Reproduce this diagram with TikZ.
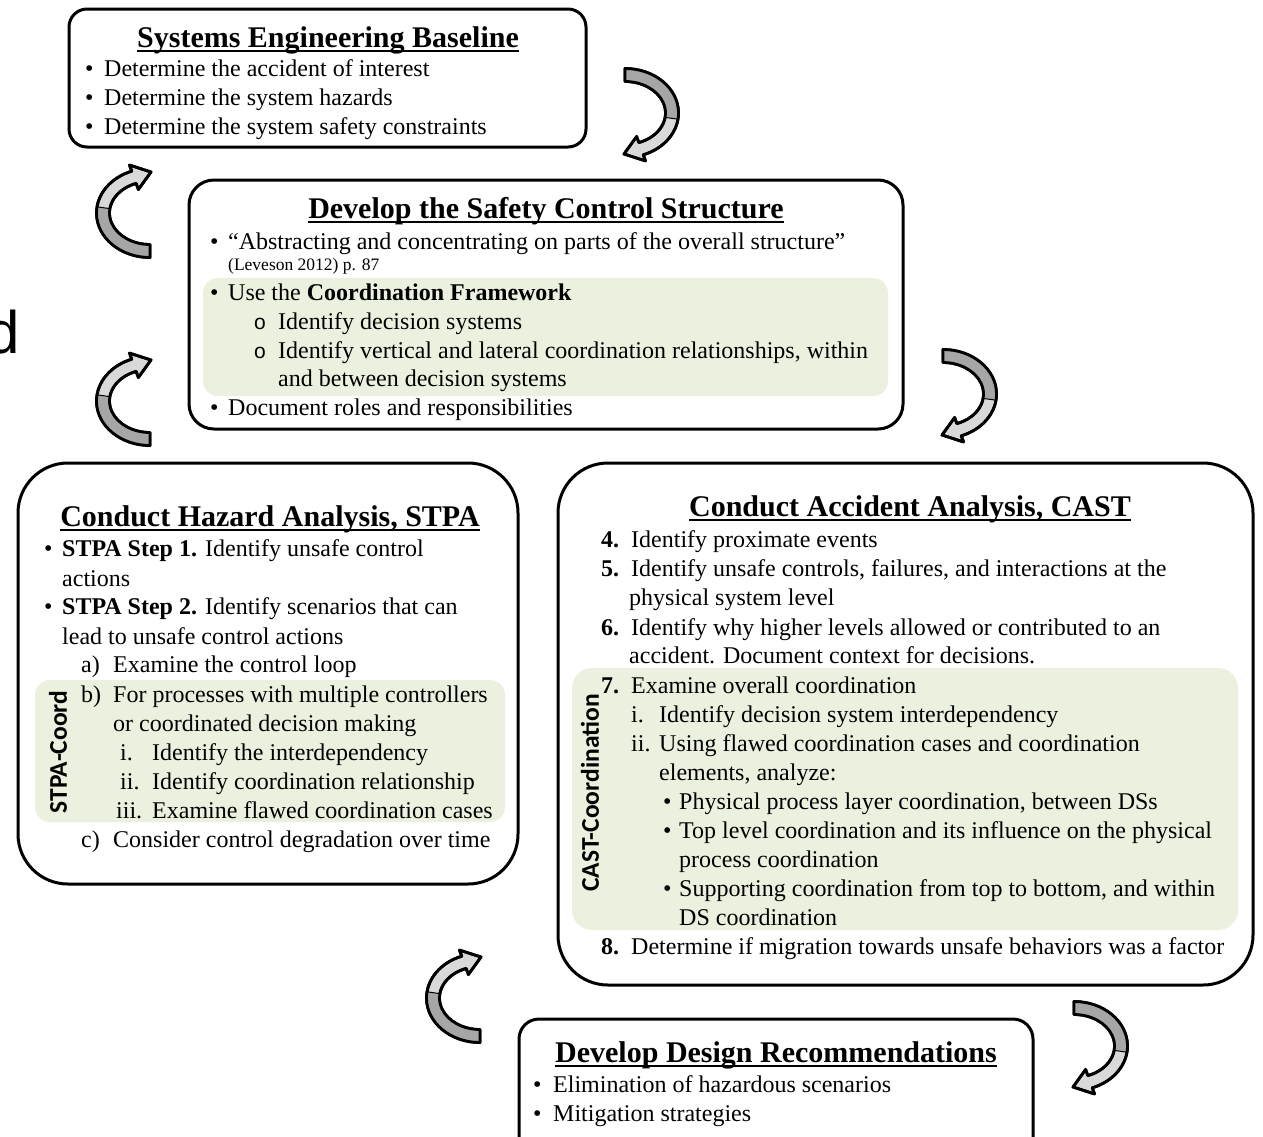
\documentclass[tikz,border=0pt]{standalone}
\usepackage{fontspec}
\setmainfont{Liberation Serif}
\newfontfamily\calib{Carlito}
\newfontfamily\arial{Liberation Sans}
\usetikzlibrary{calc}
\definecolor{hl}{HTML}{EBF1DE}
\definecolor{adark}{HTML}{A6A6A6}
\definecolor{alight}{HTML}{D9D9D9}
\tikzset{
  box/.style={draw=black, line width=3pt, fill=white},
  hlbox/.style={fill=hl},
  txt/.style={anchor=base west, inner sep=0pt, font=\fontsize{24}{29}\selectfont},
  ttl/.style={anchor=base, inner sep=0pt, font=\fontsize{30}{36}\selectfont\bfseries},
  sml/.style={anchor=base west, inner sep=0pt, font=\fontsize{17.5}{20}\selectfont},
  rot/.style={rotate=90, inner sep=0pt, font=\fontsize{25.5}{30}\selectfont\calib\bfseries},
  uline/.style={line width=2pt},
  arrline/.style={line width=2.8pt, line join=round},
}
\newcommand\TL[4]{\node[txt] (#1) at (#2,#3) {#4};}
\newcommand\BU[1]{\makebox[#1pt][l]{\textbullet}}
\newcommand\LB[2]{\makebox[#1pt][l]{#2}}
\newcommand\SO{\makebox[24pt][l]{\arial\fontsize{21}{24}\selectfont o}}
\newcommand\CArrow[3]{%
\begin{scope}[shift={(#1,#2)},rotate=#3]
\filldraw[fill=alight, arrline] (-90:53.5 and 44.5) arc[start angle=-90,end angle=70,x radius=53.5,y radius=44.5] -- (70:60 and 51) -- (-1,41) -- (70:34 and 25) -- (70:40.5 and 31.5) arc[start angle=70,end angle=-90,x radius=40.5,y radius=31.5] -- cycle;
\fill[adark] (-90:53.5 and 44.5) arc[start angle=-90,end angle=8,x radius=53.5,y radius=44.5] -- (8:40.5 and 31.5) arc[start angle=8,end angle=-90,x radius=40.5,y radius=31.5] -- cycle;
\draw[line width=1pt] (8:53.5 and 44.5) -- (8:40.5 and 31.5);
\draw[arrline] (-90:53.5 and 44.5) arc[start angle=-90,end angle=70,x radius=53.5,y radius=44.5] -- (70:60 and 51) -- (-1,41) -- (70:34 and 25) -- (70:40.5 and 31.5) arc[start angle=70,end angle=-90,x radius=40.5,y radius=31.5] -- cycle;
\end{scope}}
\begin{document}
\begin{tikzpicture}[x=1pt,y=-1pt]
\useasboundingbox (0,0) rectangle (1263,1136);
\fill[white] (0,0) rectangle (1263,1136);

% large letter at left edge, cut off as in the reference
\node[anchor=base west, inner sep=0pt, font=\arial\fontsize{60}{70}\selectfont] (dd) at (-14,353) {d};

% boxes
\draw[box, rounded corners=18pt] (69,9) rectangle (586,147);
\draw[box, rounded corners=25pt] (189,180) rectangle (903,429);
\fill[hlbox, rounded corners=15pt] (203,278) rectangle (888,396);
\draw[box, rounded corners=50pt] (18,463) rectangle (518,884);
\fill[hlbox, rounded corners=15pt] (35,680) rectangle (505,822);
\draw[box, rounded corners=50pt] (558,463) rectangle (1253,985);
\fill[hlbox, rounded corners=20pt] (572,668) rectangle (1238,930);
\draw[box, rounded corners=20pt] (519,1019) rectangle (1033,1160);

% curved arrows
\CArrow{625}{113}{0}
\CArrow{150}{213}{180}
\CArrow{150}{401}{180}
\CArrow{943}{394}{0}
\CArrow{480}{998}{180}
\CArrow{1074}{1046}{0}

% Systems Engineering Baseline
\node[ttl] (t1) at (328,47) {Systems Engineering Baseline};
\TL{s1}{85}{76}{\BU{19}Determine the accident of interest}
\TL{s2}{85}{105}{\BU{19}Determine the system hazards}
\TL{s3}{85}{134}{\BU{19}Determine the system safety constraints}

% Safety control structure
\node[ttl] (t2) at (546,218) {Develop the Safety Control Structure};
\TL{c1}{210}{249}{\BU{18}“Abstracting and concentrating on parts of the overall structure”}
\node[sml] (c2) at (228,270) {(Leveson 2012) p. 87};
\TL{c3}{210}{300}{\BU{18}Use the \textbf{Coordination Framework}}
\TL{c4}{254}{329}{\SO Identify decision systems}
\TL{c5}{254}{358}{\SO Identify vertical and lateral coordination relationships, within}
\TL{c6}{278}{386}{and between decision systems}
\TL{c7}{210}{415}{\BU{18}Document roles and responsibilities}

% STPA
\node[ttl] (t3) at (270,526) {Conduct Hazard Analysis, STPA};
\TL{p1}{44}{556}{\BU{18}\textbf{STPA Step 1.} Identify unsafe control}
\TL{p2}{62}{586}{actions}
\TL{p3}{44}{614}{\BU{18}\textbf{STPA Step 2.} Identify scenarios that can}
\TL{p4}{62}{644}{lead to unsafe control actions}
\TL{p5}{81}{672}{\LB{32}{a)}Examine the control loop}
\TL{p6}{81}{702}{\LB{32}{b)}For processes with multiple controllers}
\TL{p7}{113}{731}{or coordinated decision making}
\TL{p8}{120}{760}{\LB{32}{i.}Identify the interdependency}
\TL{p9}{120}{789}{\LB{32}{ii.}Identify coordination relationship}
\TL{p10}{116}{818}{\LB{36}{iii.}Examine flawed coordination cases}
\TL{p11}{81}{847}{\LB{32}{c)}Consider control degradation over time}
\node[rot] (pc) at (58,752) {STPA-Coord};

% CAST
\node[ttl] (t4) at (910,516) {Conduct Accident Analysis, CAST};
\TL{k1}{601}{547}{\LB{30}{\textbf{4.}}Identify proximate events}
\TL{k2}{601}{576}{\LB{30}{\textbf{5.}}Identify unsafe controls, failures, and interactions at the}
\TL{k3}{629}{605}{physical system level}
\TL{k4}{601}{635}{\LB{30}{\textbf{6.}}Identify why higher levels allowed or contributed to an}
\TL{k5}{629}{663}{accident. Document context for decisions.}
\TL{k6}{601}{693}{\LB{30}{\textbf{7.}}Examine overall coordination}
\TL{k7}{631}{722}{\LB{28}{i.}Identify decision system interdependency}
\TL{k8}{631}{751}{\LB{28}{ii.}Using flawed coordination cases and coordination}
\TL{k9}{659}{780}{elements, analyze:}
\TL{k10}{663}{809}{\BU{16}Physical process layer coordination, between DSs}
\TL{k11}{663}{838}{\BU{16}Top level coordination and its influence on the physical}
\TL{k12}{679}{867}{process coordination}
\TL{k13}{663}{896}{\BU{16}Supporting coordination from top to bottom, and within}
\TL{k14}{679}{925}{DS coordination}
\TL{k15}{601}{954}{\LB{30}{\textbf{8.}}Determine if migration towards unsafe behaviors was a factor}
\node[rot] (kc) at (590,793) {CAST-Coordination};

% Design recommendations
\node[ttl] (t5) at (776,1062) {Develop Design Recommendations};
\TL{d1}{533}{1092}{\BU{20}Elimination of hazardous scenarios}
\TL{d2}{533}{1121}{\BU{20}Mitigation strategies}

% title underlines
\foreach \t in {t1,t2,t3,t4,t5}
  \draw[uline] ([yshift=-4pt]\t.base west) -- ([yshift=-4pt]\t.base east);
\end{tikzpicture}
\end{document}
